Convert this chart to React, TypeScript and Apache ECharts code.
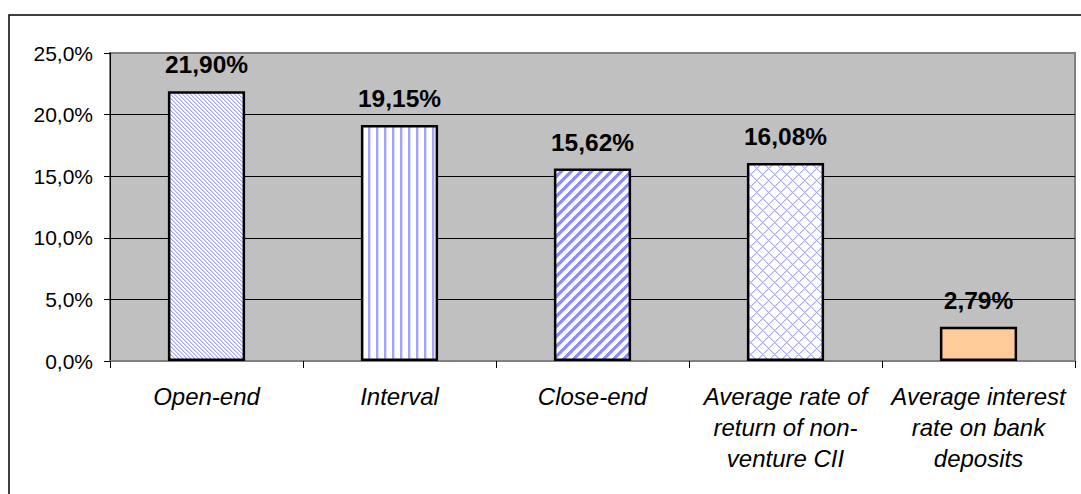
import React, { useEffect, useRef } from "react";
import * as echarts from "echarts";

const categories = [
  "Open-end",
  "Interval",
  "Close-end",
  "Average rate of\nreturn of non-\nventure CII",
  "Average interest\nrate on bank\ndeposits",
];
const values = [21.9, 19.15, 15.62, 16.08, 2.79];
const yTicks = [0, 5, 10, 15, 20, 25];

const FONT = "'Liberation Sans', Arial, sans-serif";

function makeTile(w: number, h: number, fn: (x: number, y: number) => string | null) {
  const c = document.createElement("canvas");
  c.width = w;
  c.height = h;
  const ctx = c.getContext("2d")!;
  ctx.fillStyle = "#ffffff";
  ctx.fillRect(0, 0, w, h);
  for (let y = 0; y < h; y++) {
    for (let x = 0; x < w; x++) {
      const col = fn(x, y);
      if (col) {
        ctx.fillStyle = col;
        ctx.fillRect(x, y, 1, 1);
      }
    }
  }
  return { image: c, repeat: "repeat" as const };
}

const mod = (a: number, n: number) => ((a % n) + n) % n;

export default function App() {
  const ref = useRef<HTMLDivElement>(null);
  useEffect(() => {
    if (!ref.current) return;
    const chart = echarts.init(ref.current, undefined, { renderer: "svg" });

    const fills: any[] = [
      // fine "\" diagonal
      makeTile(8, 8, (x, y) => {
        const d = mod(x - y, 4);
        if (d === 0) return "#a6a6ff";
        if (d === 1) return "#d6d6ff";
        return null;
      }),
      // vertical lines
      makeTile(8, 8, (x) => {
        if (x === 0 || x === 1) return "#a4a4ff";
        if (x === 2) return "#dcdcff";
        return null;
      }),
      // wide "/" diagonal
      makeTile(10, 10, (x, y) => {
        const d = mod(x + y, 10);
        if (d < 4) return "#8c8cff";
        if (d === 4) return "#c4c4ff";
        return null;
      }),
      // diagonal crosshatch
      makeTile(12, 12, (x, y) => {
        const a = mod(x + y, 12);
        const b = mod(x - y, 12);
        if (a === 0 || b === 0) return "#acacff";
        if (a === 1 || b === 1) return "#d8d8ff";
        return null;
      }),
      "#FFCC99",
    ];

    chart.setOption({
      animation: false,
      backgroundColor: "#ffffff",
      graphic: [
        {
          type: "rect",
          z: -10,
          shape: { x: 9, y: 15, width: 1200, height: 800 },
          style: { fill: "none", stroke: "#000000", lineWidth: 1.5 },
        },
      ],
      grid: {
        left: 110,
        top: 53,
        right: 6,
        bottom: 133,
        show: true,
        backgroundColor: "#C0C0C0",
        borderColor: "#808080",
        borderWidth: 2,
      },
      xAxis: {
        type: "category",
        data: categories,
        axisLine: { show: true, lineStyle: { color: "#808080", width: 2 } },
        axisTick: { show: true, length: 7, lineStyle: { color: "#000000", width: 1 } },
        axisLabel: {
          interval: 0,
          margin: 20,
          fontFamily: FONT,
          fontSize: 24,
          fontStyle: "italic",
          color: "#000000",
          lineHeight: 31,
          align: "center",
        },
        splitLine: { show: false },
      },
      yAxis: {
        type: "value",
        min: 0,
        max: 25,
        interval: 5,
        axisLine: { show: true, lineStyle: { color: "#000000", width: 1 } },
        axisTick: { show: true, length: 6, lineStyle: { color: "#000000" } },
        axisLabel: {
          margin: 17,
          fontFamily: FONT,
          fontSize: 21,
          color: "#000000",
          formatter: (v: number) => {
            if (!yTicks.includes(v)) return "";
            return v.toFixed(1).replace(".", ",") + "%";
          },
        },
        splitLine: {
          show: true,
          lineStyle: {
            color: ["#808080", "#000000", "#000000", "#000000", "#000000", "#808080"],
            width: 1,
          },
        },
      },
      series: [
        {
          type: "bar",
          barWidth: "40%",
          data: values.map((v, i) => ({
            value: v,
            itemStyle: { color: fills[i] },
          })),
          itemStyle: { borderColor: "#000000", borderWidth: 2.5 },
          label: {
            show: true,
            position: "top",
            distance: 14,
            fontFamily: FONT,
            fontSize: 24.5,
            fontWeight: "bold",
            color: "#000000",
            formatter: (p: any) => p.value.toFixed(2).replace(".", ",") + "%",
          },
        },
      ],
    });
    return () => chart.dispose();
  }, []);
  return (
    <div
      ref={ref}
      style={{ position: "fixed", left: 0, top: 0, width: 1081, height: 494 }}
    />
  );
}
